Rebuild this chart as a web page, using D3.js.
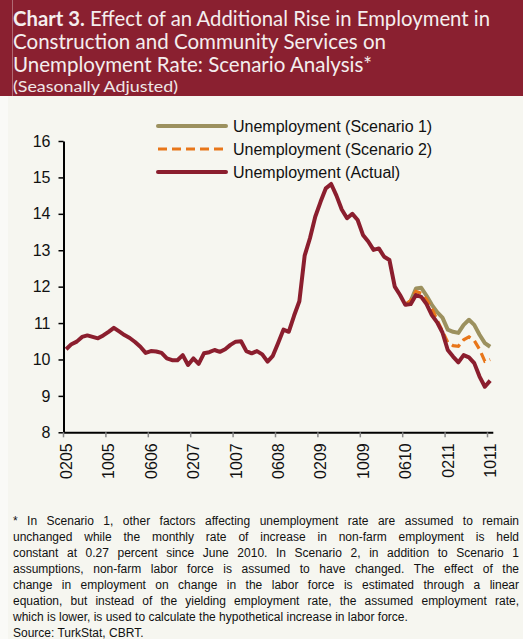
<!DOCTYPE html>
<html>
<head>
<meta charset="utf-8">
<script src="https://cdn.jsdelivr.net/npm/d3@7"></script>
<style>
  body { margin: 0; background: #fafaf7; }
  svg { display: block; }
</style>
</head>
<body>
<svg id="chart" width="523" height="639"></svg>
<script>
// Monthly unemployment rate (%), seasonally adjusted, Feb 2005 – Oct 2011
const actual = [
  10.28, 10.42, 10.49, 10.62, 10.66, 10.62, 10.58, 10.66, 10.76, 10.87,
  10.77, 10.67, 10.59, 10.48, 10.35, 10.18, 10.23, 10.22, 10.18, 10.03,
  9.98, 9.98, 10.12, 9.85, 10.03, 9.88, 10.17, 10.20, 10.26, 10.21,
  10.28, 10.40, 10.49, 10.50, 10.23, 10.17, 10.23, 10.14, 9.94, 10.10,
  10.45, 10.82, 10.76, 11.20, 11.60, 12.85, 13.33, 13.92, 14.33, 14.70,
  14.82, 14.50, 14.12, 13.88, 14.00, 13.83, 13.42, 13.24, 13.01, 13.05,
  12.82, 12.73, 12.00, 11.77, 11.50, 11.52, 11.77, 11.72, 11.52, 11.22,
  11.02, 10.74, 10.26, 10.08, 9.92, 10.12, 10.06, 9.90, 9.53, 9.25,
  9.42
];
// Scenario paths, June 2010 – Oct 2011
const scenarioStart = "0610";
const scenario1 = [
  11.50, 11.60, 11.95, 11.97, 11.75, 11.50, 11.30, 11.15, 10.82, 10.76,
  10.73, 10.95, 11.09, 10.95, 10.68, 10.45, 10.35
];
const scenario2 = [
  11.50, 11.62, 11.87, 11.82, 11.65, 11.40, 11.08, 10.78, 10.47, 10.38,
  10.36, 10.54, 10.62, 10.52, 10.28, 9.95, 10.00
];
const xTickLabels = ["0205", "1005", "0606", "0207", "1007", "0608", "0209", "1009", "0610", "0211", "1011"];
const yTickValues = [8, 9, 10, 11, 12, 13, 14, 15, 16];
const seriesNames = ["Unemployment (Scenario 1)", "Unemployment (Scenario 2)", "Unemployment (Actual)"];

const titleLines = [
  { bold: "Chart 3.", text: " Effect of an Additional Rise in Employment in" },
  { bold: "", text: "Construction and Community Services on" },
  { bold: "", text: "Unemployment Rate: Scenario Analysis*" }
];
const subtitle = "(Seasonally Adjusted)";
const footnoteLines = [
  "* In Scenario 1, other factors affecting unemployment rate are assumed to remain",
  "unchanged while the monthly rate of increase in non-farm employment is held",
  "constant at 0.27 percent since June 2010. In Scenario 2, in addition to Scenario 1",
  "assumptions, non-farm labor force is assumed to have changed. The effect of the",
  "change in employment on change in the labor force is estimated through a linear",
  "equation, but instead of the yielding employment rate, the assumed employment rate,",
  "which is lower, is used to calculate the hypothetical increase in labor force.",
  "Source: TurkStat, CBRT."
];

// Month keys in MMYY form
const fmt = d3.timeFormat("%m%y");
const months = d3.timeMonth.range(new Date(2005, 1, 1), new Date(2011, 10, 1)).map(fmt);

const svg = d3.select("#chart");
const FONT = "'Liberation Sans', Arial, Helvetica, sans-serif";
const RED = "#8b1e2e", OLIVE = "#9c915f", ORANGE = "#e8761a";
const DASH = "9,5";

// panel + header
svg.append("rect").attr("x", 8).attr("y", 96).attr("width", 515).attr("height", 543).attr("fill", "#f6f6f0");
svg.append("rect").attr("x", 0).attr("y", 0).attr("width", 523).attr("height", 96).attr("fill", "#8a2030");
svg.append("line").attr("x1", 12.5).attr("x2", 12.5).attr("y1", 0).attr("y2", 96)
  .attr("stroke", "#b06a74").attr("stroke-width", 1);

const titleWidths = [477, 373, 359];
titleLines.forEach((l, i) => {
  const t = svg.append("text")
    .attr("x", 13).attr("y", 26 + i * 23)
    .attr("font-family", "Lato, 'Open Sans', sans-serif")
    .attr("font-size", 21).attr("fill", "#f4eeee")
    .attr("textLength", titleWidths[i]).attr("lengthAdjust", "spacingAndGlyphs");
  if (l.bold) t.append("tspan").attr("font-weight", "bold").text(l.bold);
  t.append("tspan").text(l.text);
});
svg.append("text")
  .attr("x", 13).attr("y", 92)
  .attr("font-family", "Lato, 'Open Sans', sans-serif")
  .attr("font-size", 16).attr("fill", "#efe6e6")
  .attr("textLength", 165).attr("lengthAdjust", "spacingAndGlyphs")
  .text(subtitle);

// scales
const x = d3.scaleBand().domain(months).range([63.5, 492.8]).padding(0);
const y = d3.scaleLinear().domain([8, 16]).range([432.3, 141]);
const bw = x.bandwidth();
const cx = m => x(m) + bw / 2;

// y axis
const yAxis = svg.append("g").attr("transform", "translate(63.5,0)")
  .call(d3.axisLeft(y).tickValues(yTickValues).tickSize(5).tickSizeOuter(0).tickPadding(8));
yAxis.select(".domain").attr("stroke", "#000").attr("stroke-width", 2);
yAxis.selectAll(".tick line").attr("stroke", "#000").attr("stroke-width", 1.5);
yAxis.selectAll(".tick text").attr("font-family", FONT).attr("font-size", 16).attr("fill", "#111");

// x axis: tick marks on category boundaries, labels centred in the category
const xAxis = svg.append("g").attr("transform", "translate(0,432.3)")
  .call(d3.axisBottom(x).tickValues(xTickLabels).tickSize(5).tickSizeOuter(0));
xAxis.select(".domain").attr("stroke", "#000").attr("stroke-width", 2);
xAxis.selectAll(".tick line").attr("stroke", "#888").attr("stroke-width", 1.5)
  .attr("transform", `translate(${-bw / 2},0)`);
xAxis.selectAll(".tick text")
  .attr("font-family", FONT).attr("font-size", 16).attr("fill", "#111")
  .attr("transform", "rotate(-90)")
  .attr("text-anchor", "end")
  .attr("x", -11).attr("y", 0).attr("dy", "0.36em");

// lines
const line = d3.line().x(d => cx(d.m)).y(d => y(d.v)).curve(d3.curveLinear);
const s0 = months.indexOf(scenarioStart);
const actualData = actual.map((v, i) => ({ m: months[i], v }));
const s1Data = scenario1.map((v, i) => ({ m: months[s0 + i], v }));
const s2Data = scenario2.map((v, i) => ({ m: months[s0 + i], v }));

svg.append("path").datum(s1Data).attr("d", line)
  .attr("fill", "none").attr("stroke", OLIVE).attr("stroke-width", 4).attr("stroke-linejoin", "round");
svg.append("path").datum(s2Data).attr("d", line)
  .attr("fill", "none").attr("stroke", ORANGE).attr("stroke-width", 3.2)
  .attr("stroke-dasharray", DASH);
svg.append("path").datum(actualData).attr("d", line)
  .attr("fill", "none").attr("stroke", RED).attr("stroke-width", 4).attr("stroke-linejoin", "round");

// legend
const legend = [
  { name: seriesNames[0], color: OLIVE, dash: null, w: 4 },
  { name: seriesNames[1], color: ORANGE, dash: DASH, w: 3.2 },
  { name: seriesNames[2], color: RED, dash: null, w: 4 }
];
legend.forEach((l, i) => {
  const ly = 126 + i * 23;
  svg.append("line").attr("x1", 158).attr("x2", 226).attr("y1", ly).attr("y2", ly)
    .attr("stroke", l.color).attr("stroke-width", l.w)
    .attr("stroke-linecap", l.dash ? "butt" : "round")
    .attr("stroke-dasharray", l.dash);
  svg.append("text").attr("x", 233).attr("y", ly).attr("dy", "0.35em")
    .attr("font-family", FONT).attr("font-size", 16).attr("fill", "#111")
    .text(l.name);
});

// footnote, first six lines justified
const fnLeft = 13, fnRight = 519, fnSize = 12;
footnoteLines.forEach((txt, i) => {
  const by = 525 + i * 16;
  const g = svg.append("g");
  if (i < 6) {
    const words = txt.split(" ");
    const nodes = words.map(w => g.append("text").attr("y", by)
      .attr("font-family", FONT).attr("font-size", fnSize).attr("fill", "#111").text(w));
    const widths = nodes.map(n => n.node().getComputedTextLength());
    const gap = (fnRight - fnLeft - d3.sum(widths)) / (words.length - 1);
    let cx0 = fnLeft;
    nodes.forEach((n, k) => { n.attr("x", cx0); cx0 += widths[k] + gap; });
  } else {
    g.append("text").attr("x", fnLeft).attr("y", by)
      .attr("font-family", FONT).attr("font-size", fnSize).attr("fill", "#111").text(txt);
  }
});
</script>
</body>
</html>
